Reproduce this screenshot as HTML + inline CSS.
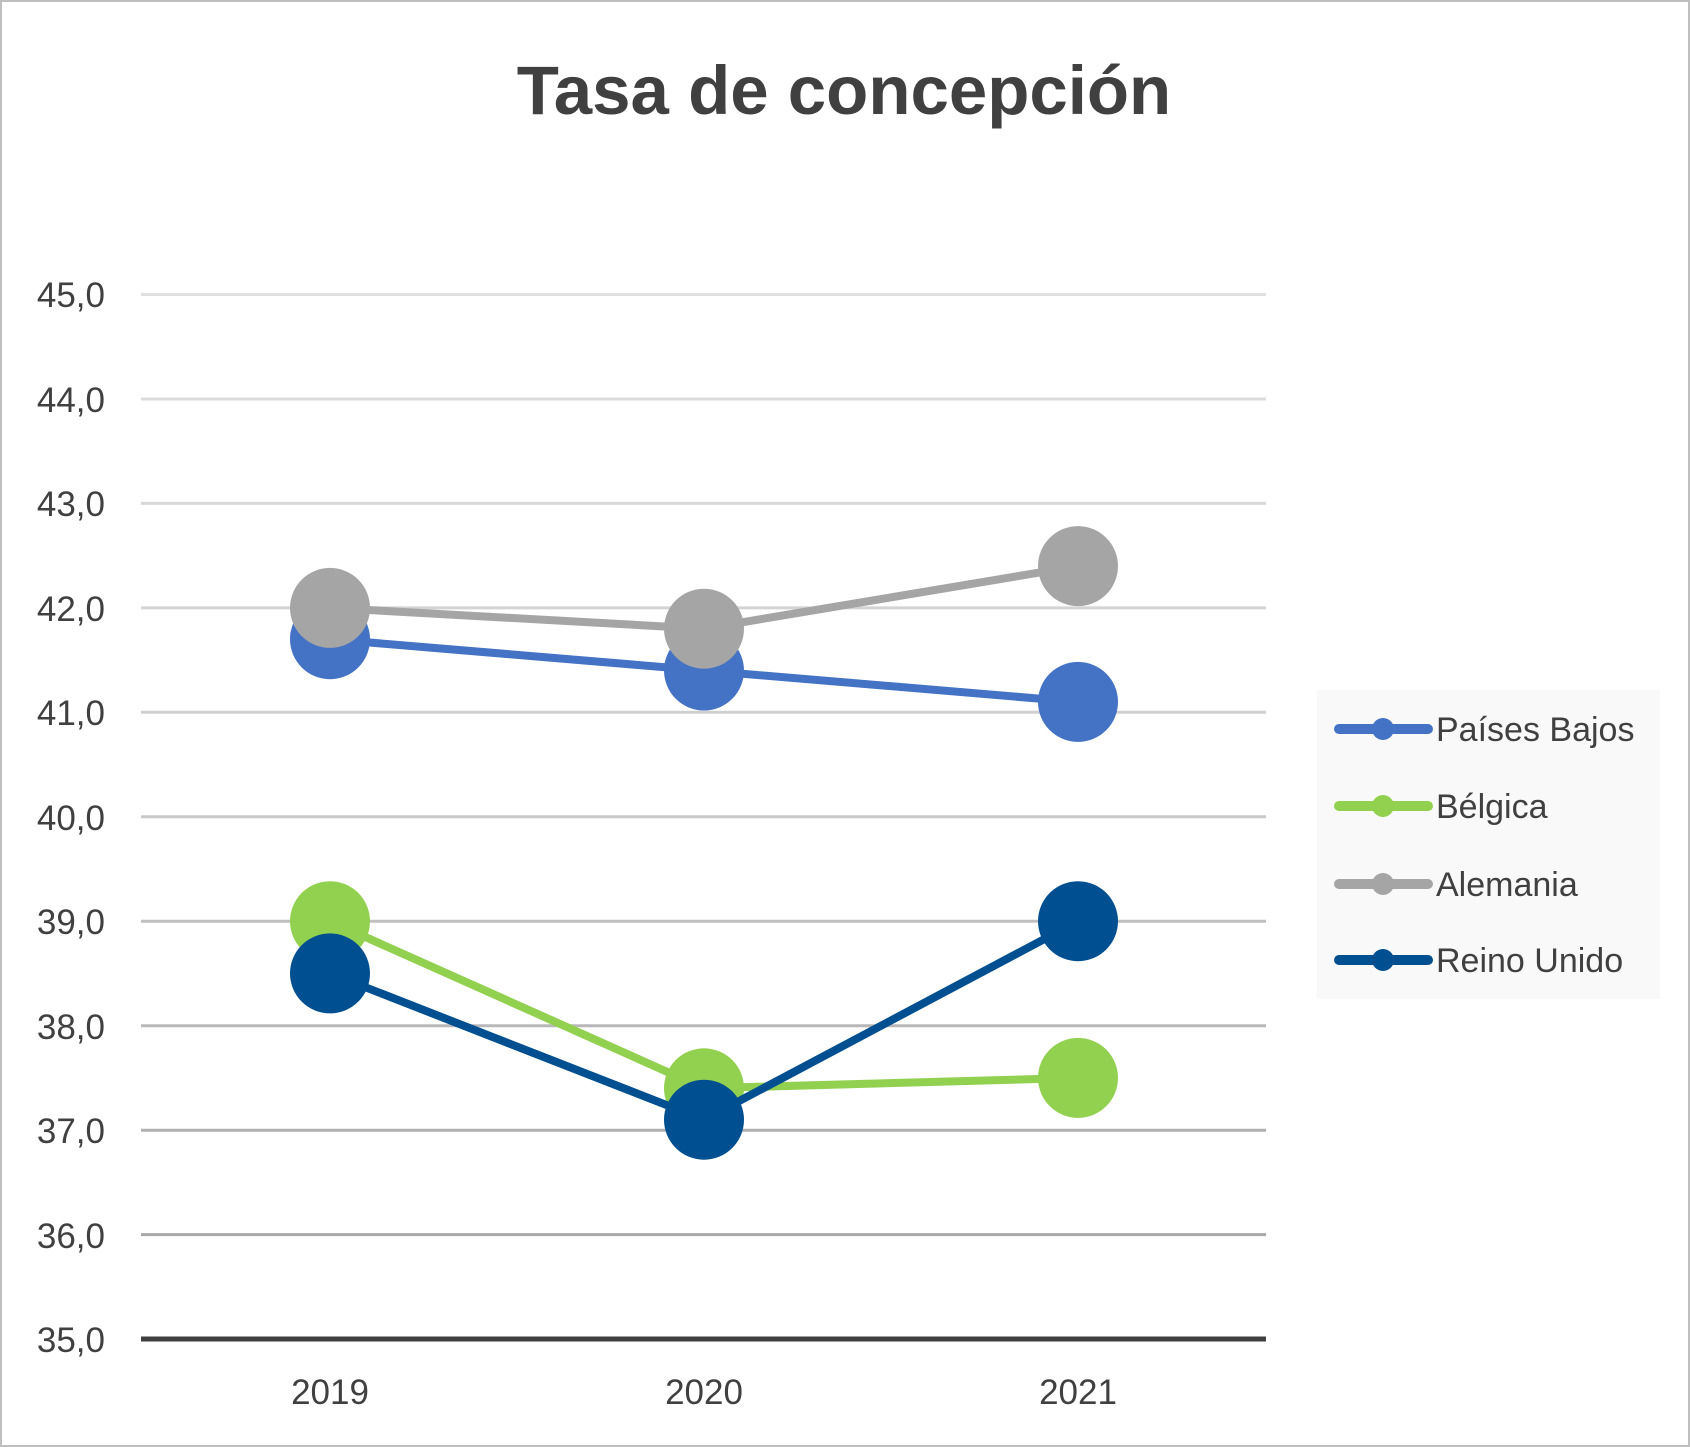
<!DOCTYPE html>
<html><head><meta charset="utf-8"><style>
html,body{margin:0;padding:0;background:#fff}
svg{display:block}
text{font-family:"Liberation Sans",sans-serif;fill:#404040}
</style></head><body>
<svg width="1690" height="1447" viewBox="0 0 1690 1447" xmlns="http://www.w3.org/2000/svg">
<rect x="1" y="1" width="1688" height="1445" fill="#fff" stroke="#bfbfbf" stroke-width="2"/>
<text x="844" y="114" font-size="69" font-weight="bold" text-anchor="middle">Tasa de concepción</text>
<g stroke-width="3">
<line x1="141" x2="1266" y1="294.5" y2="294.5" stroke="#e0e0e0"/>
<line x1="141" x2="1266" y1="399" y2="399" stroke="#dcdcdc"/>
<line x1="141" x2="1266" y1="503.4" y2="503.4" stroke="#d8d8d8"/>
<line x1="141" x2="1266" y1="607.9" y2="607.9" stroke="#d4d4d4"/>
<line x1="141" x2="1266" y1="712.3" y2="712.3" stroke="#d0d0d0"/>
<line x1="141" x2="1266" y1="816.8" y2="816.8" stroke="#c8c8c8"/>
<line x1="141" x2="1266" y1="921.2" y2="921.2" stroke="#c0c0c0"/>
<line x1="141" x2="1266" y1="1025.7" y2="1025.7" stroke="#b8b8b8"/>
<line x1="141" x2="1266" y1="1130.2" y2="1130.2" stroke="#b0b0b0"/>
<line x1="141" x2="1266" y1="1234.6" y2="1234.6" stroke="#a8a8a8"/>
</g>
<line x1="141" x2="1266" y1="1339" y2="1339" stroke="#404040" stroke-width="5"/>
<g font-size="35" text-anchor="end">
<text x="105" y="307">45,0</text><text x="105" y="412">44,0</text><text x="105" y="516">43,0</text>
<text x="105" y="621">42,0</text><text x="105" y="725">41,0</text><text x="105" y="830">40,0</text>
<text x="105" y="934">39,0</text><text x="105" y="1039">38,0</text><text x="105" y="1143">37,0</text>
<text x="105" y="1248">36,0</text><text x="105" y="1352">35,0</text>
</g>
<g font-size="35" text-anchor="middle">
<text x="330" y="1404">2019</text><text x="704" y="1404">2020</text><text x="1078" y="1404">2021</text>
</g>
<g stroke-width="8" fill="none" stroke-linejoin="round">
<polyline points="330,639.2 704,670.5 1078,701.9" stroke="#4472C4"/>
<circle cx="330" cy="639.2" r="40" fill="#4472C4" stroke="none"/><circle cx="704" cy="670.5" r="40" fill="#4472C4" stroke="none"/><circle cx="1078" cy="701.9" r="40" fill="#4472C4" stroke="none"/>
<polyline points="330,921.2 704,1088.3 1078,1077.9" stroke="#92D050"/>
<circle cx="330" cy="921.2" r="40" fill="#92D050" stroke="none"/><circle cx="704" cy="1088.3" r="40" fill="#92D050" stroke="none"/><circle cx="1078" cy="1077.9" r="40" fill="#92D050" stroke="none"/>
<polyline points="330,607.9 704,628.7 1078,566.1" stroke="#A5A5A5"/>
<circle cx="330" cy="607.9" r="40" fill="#A5A5A5" stroke="none"/><circle cx="704" cy="628.7" r="40" fill="#A5A5A5" stroke="none"/><circle cx="1078" cy="566.1" r="40" fill="#A5A5A5" stroke="none"/>
<polyline points="330,973.4 704,1119.7 1078,921.2" stroke="#004F90"/>
<circle cx="330" cy="973.4" r="40" fill="#004F90" stroke="none"/><circle cx="704" cy="1119.7" r="40" fill="#004F90" stroke="none"/><circle cx="1078" cy="921.2" r="40" fill="#004F90" stroke="none"/>
</g>
<rect x="1317" y="690" width="343" height="309" fill="#f9f9f9"/>
<g stroke-width="10" stroke-linecap="round" font-size="34">
<line x1="1339" x2="1428" y1="729" y2="729" stroke="#4472C4"/><circle cx="1383" cy="729" r="11" fill="#4472C4"/><text x="1436" y="741" stroke="none">Países Bajos</text>
<line x1="1339" x2="1428" y1="806" y2="806" stroke="#92D050"/><circle cx="1383" cy="806" r="11" fill="#92D050"/><text x="1436" y="818" stroke="none">Bélgica</text>
<line x1="1339" x2="1428" y1="884" y2="884" stroke="#A5A5A5"/><circle cx="1383" cy="884" r="11" fill="#A5A5A5"/><text x="1436" y="896" stroke="none">Alemania</text>
<line x1="1339" x2="1428" y1="960" y2="960" stroke="#004F90"/><circle cx="1383" cy="960" r="11" fill="#004F90"/><text x="1436" y="972" stroke="none">Reino Unido</text>
</g>
</svg>
</body></html>
